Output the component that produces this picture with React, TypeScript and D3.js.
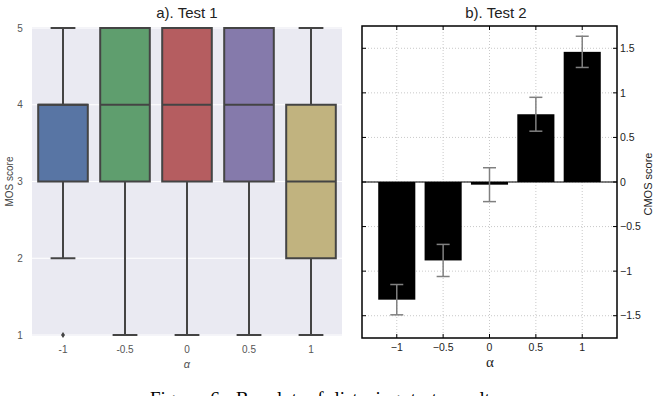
import React from 'react'
import * as d3 from 'd3'

// a). Test 1 -- box plot of MOS scores per alpha
const alphaLabels = ['-1', '-0.5', '0', '0.5', '1']
const whiskerLow = [2, 1, 1, 1, 1]
const boxQ1 = [3, 3, 3, 3, 2]
const boxMedian = [4, 4, 4, 4, 3]
const boxQ3 = [4, 5, 5, 5, 4]
const whiskerHigh = [5, 5, 5, 5, 5]
const outliers = [[1], [], [], [], []]
const mosTicks = [1, 2, 3, 4, 5]

// b). Test 2 -- mean CMOS with error bars
const alphaValues = [-1, -0.5, 0, 0.5, 1]
const cmosMean = [-1.32, -0.88, -0.03, 0.76, 1.46]
const cmosErr = [0.17, 0.18, 0.19, 0.19, 0.175]
const cmosTicks = [-1.5, -1, -0.5, 0, 0.5, 1, 1.5]
const alphaTickLabels = ['\u22121', '\u22120.5', '0', '0.5', '1']

const boxColors = ['#5875a4', '#5f9e6e', '#b55d60', '#857aab', '#c1b37f']
const sans = 'Liberation Sans, Arial, sans-serif'

const App = () => {
  // left panel scales
  const xL = d3.scaleBand<string>().domain(alphaLabels).range([32, 342])
  const yL = d3.scaleLinear().domain([1, 5]).range([335, 28])
  const bw = xL.bandwidth()
  const boxW = bw * 0.8
  const capW = boxW / 2

  // right panel scales
  const xR = d3.scaleLinear().domain([-1.375, 1.375]).range([362, 617])
  const yR = d3.scaleLinear().domain([-1.75, 1.75]).range([338, 26])
  const barW = xR(0.4) - xR(0)
  const errCap = 13

  const fmt = (v: number) => (v < 0 ? '\u2212' + Math.abs(v) : String(v))

  return (
    <svg width={657} height={396} style={{ position: 'absolute', left: 0, top: 0, background: '#fff' }}>
      {/* ---------- left panel ---------- */}
      <rect x={32} y={27} width={310} height={309} fill="#eaeaf2" />
      {mosTicks.map((t) => (
        <line key={'gl' + t} x1={32} x2={342} y1={yL(t)} y2={yL(t)} stroke="#fff" strokeWidth={1} />
      ))}
      {alphaLabels.map((a, i) => {
        const cx = xL(a)! + bw / 2
        const col = '#444'
        return (
          <g key={'box' + a}>
            <line x1={cx} x2={cx} y1={yL(whiskerLow[i])} y2={yL(boxQ1[i])} stroke={col} strokeWidth={2} />
            <line x1={cx} x2={cx} y1={yL(boxQ3[i])} y2={yL(whiskerHigh[i])} stroke={col} strokeWidth={2} />
            <line x1={cx - capW / 2} x2={cx + capW / 2} y1={yL(whiskerLow[i])} y2={yL(whiskerLow[i])} stroke={col} strokeWidth={2} />
            <line x1={cx - capW / 2} x2={cx + capW / 2} y1={yL(whiskerHigh[i])} y2={yL(whiskerHigh[i])} stroke={col} strokeWidth={2} />
            <rect
              x={cx - boxW / 2}
              y={yL(boxQ3[i])}
              width={boxW}
              height={yL(boxQ1[i]) - yL(boxQ3[i])}
              fill={boxColors[i]}
              stroke={col}
              strokeWidth={2}
            />
            <line x1={cx - boxW / 2} x2={cx + boxW / 2} y1={yL(boxMedian[i])} y2={yL(boxMedian[i])} stroke={col} strokeWidth={2} />
            {outliers[i].map((o, j) => (
              <path
                key={j}
                d={`M${cx},${yL(o) - 3}L${cx + 2},${yL(o)}L${cx},${yL(o) + 3}L${cx - 2},${yL(o)}Z`}
                fill={col}
              />
            ))}
          </g>
        )
      })}
      {mosTicks.map((t) => (
        <text key={'yl' + t} x={20} y={yL(t)} dy="0.35em" textAnchor="middle" fontSize={10} fill="#555" fontFamily={sans}>
          {t}
        </text>
      ))}
      {alphaLabels.map((a) => (
        <text key={'xl' + a} x={xL(a)! + bw / 2} y={353} textAnchor="middle" fontSize={10} fill="#555" fontFamily={sans}>
          {a}
        </text>
      ))}
      <text x={187} y={368} textAnchor="middle" fontSize={11} fontStyle="italic" fill="#555" fontFamily={sans}>
        α
      </text>
      <text transform={`translate(13,${(yL(1) + yL(5)) / 2}) rotate(-90)`} textAnchor="middle" fontSize={10} fill="#444" fontFamily={sans}>
        MOS score
      </text>
      <text x={187} y={18} textAnchor="middle" fontSize={15} fill="#222" fontFamily={sans}>
        a). Test 1
      </text>

      {/* ---------- right panel ---------- */}
      {alphaValues.map((v) => (
        <line key={'gx' + v} x1={xR(v)} x2={xR(v)} y1={26} y2={338} stroke="#bbb" strokeWidth={0.8} strokeDasharray="1,2" />
      ))}
      {cmosTicks.map((t) => (
        <line key={'gy' + t} x1={362} x2={617} y1={yR(t)} y2={yR(t)} stroke="#bbb" strokeWidth={0.8} strokeDasharray="1,2" />
      ))}
      {alphaValues.map((v, i) => (
        <rect
          key={'bar' + v}
          x={xR(v) - barW / 2}
          y={Math.min(yR(cmosMean[i]), yR(0))}
          width={barW}
          height={Math.max(Math.abs(yR(cmosMean[i]) - yR(0)), 1.5)}
          fill="#000"
        />
      ))}
      <line x1={362} x2={617} y1={yR(0)} y2={yR(0)} stroke="#000" strokeWidth={1.2} />
      {alphaValues.map((v, i) => {
        const hi = yR(cmosMean[i] + cmosErr[i])
        const lo = yR(cmosMean[i] - cmosErr[i])
        const cx = xR(v)
        return (
          <g key={'err' + v} stroke="#808080" strokeWidth={1.5}>
            <line x1={cx} x2={cx} y1={hi} y2={lo} />
            <line x1={cx - errCap / 2} x2={cx + errCap / 2} y1={hi} y2={hi} />
            <line x1={cx - errCap / 2} x2={cx + errCap / 2} y1={lo} y2={lo} />
          </g>
        )
      })}
      {/* frame and inward ticks */}
      <rect x={362} y={26} width={255} height={312} fill="none" stroke="#000" strokeWidth={1.5} />
      {cmosTicks.map((t) => (
        <g key={'ty' + t} stroke="#000" strokeWidth={1}>
          <line x1={362} x2={366} y1={yR(t)} y2={yR(t)} />
          <line x1={613} x2={617} y1={yR(t)} y2={yR(t)} />
        </g>
      ))}
      {alphaValues.map((v) => (
        <g key={'tx' + v} stroke="#000" strokeWidth={1}>
          <line x1={xR(v)} x2={xR(v)} y1={26} y2={30} />
          <line x1={xR(v)} x2={xR(v)} y1={334} y2={338} />
        </g>
      ))}
      {cmosTicks.map((t) => (
        <text key={'yr' + t} x={620} y={yR(t)} dy="0.35em" textAnchor="start" fontSize={10.5} fill="#222" fontFamily={sans}>
          {fmt(t)}
        </text>
      ))}
      {alphaValues.map((v, i) => (
        <text key={'xr' + v} x={xR(v)} y={351} textAnchor="middle" fontSize={10.5} fill="#222" fontFamily={sans}>
          {alphaTickLabels[i]}
        </text>
      ))}
      <text x={490} y={367} textAnchor="middle" fontSize={15} fill="#222" fontFamily="Liberation Serif, serif">
        α
      </text>
      <text transform={`translate(652,184) rotate(-90)`} textAnchor="middle" fontSize={11} fill="#222" fontFamily={sans}>
        CMOS score
      </text>
      <text x={496} y={18} textAnchor="middle" fontSize={15} fill="#222" fontFamily={sans}>
        b). Test 2
      </text>

      {/* caption, cut by the bottom edge */}
      <text x={150} y={405} fontSize={19} fontFamily="Liberation Serif, serif" fill="#000" wordSpacing={6}>
        Figure 6: Boxplot of listening test results
      </text>
    </svg>
  )
}

export default App
